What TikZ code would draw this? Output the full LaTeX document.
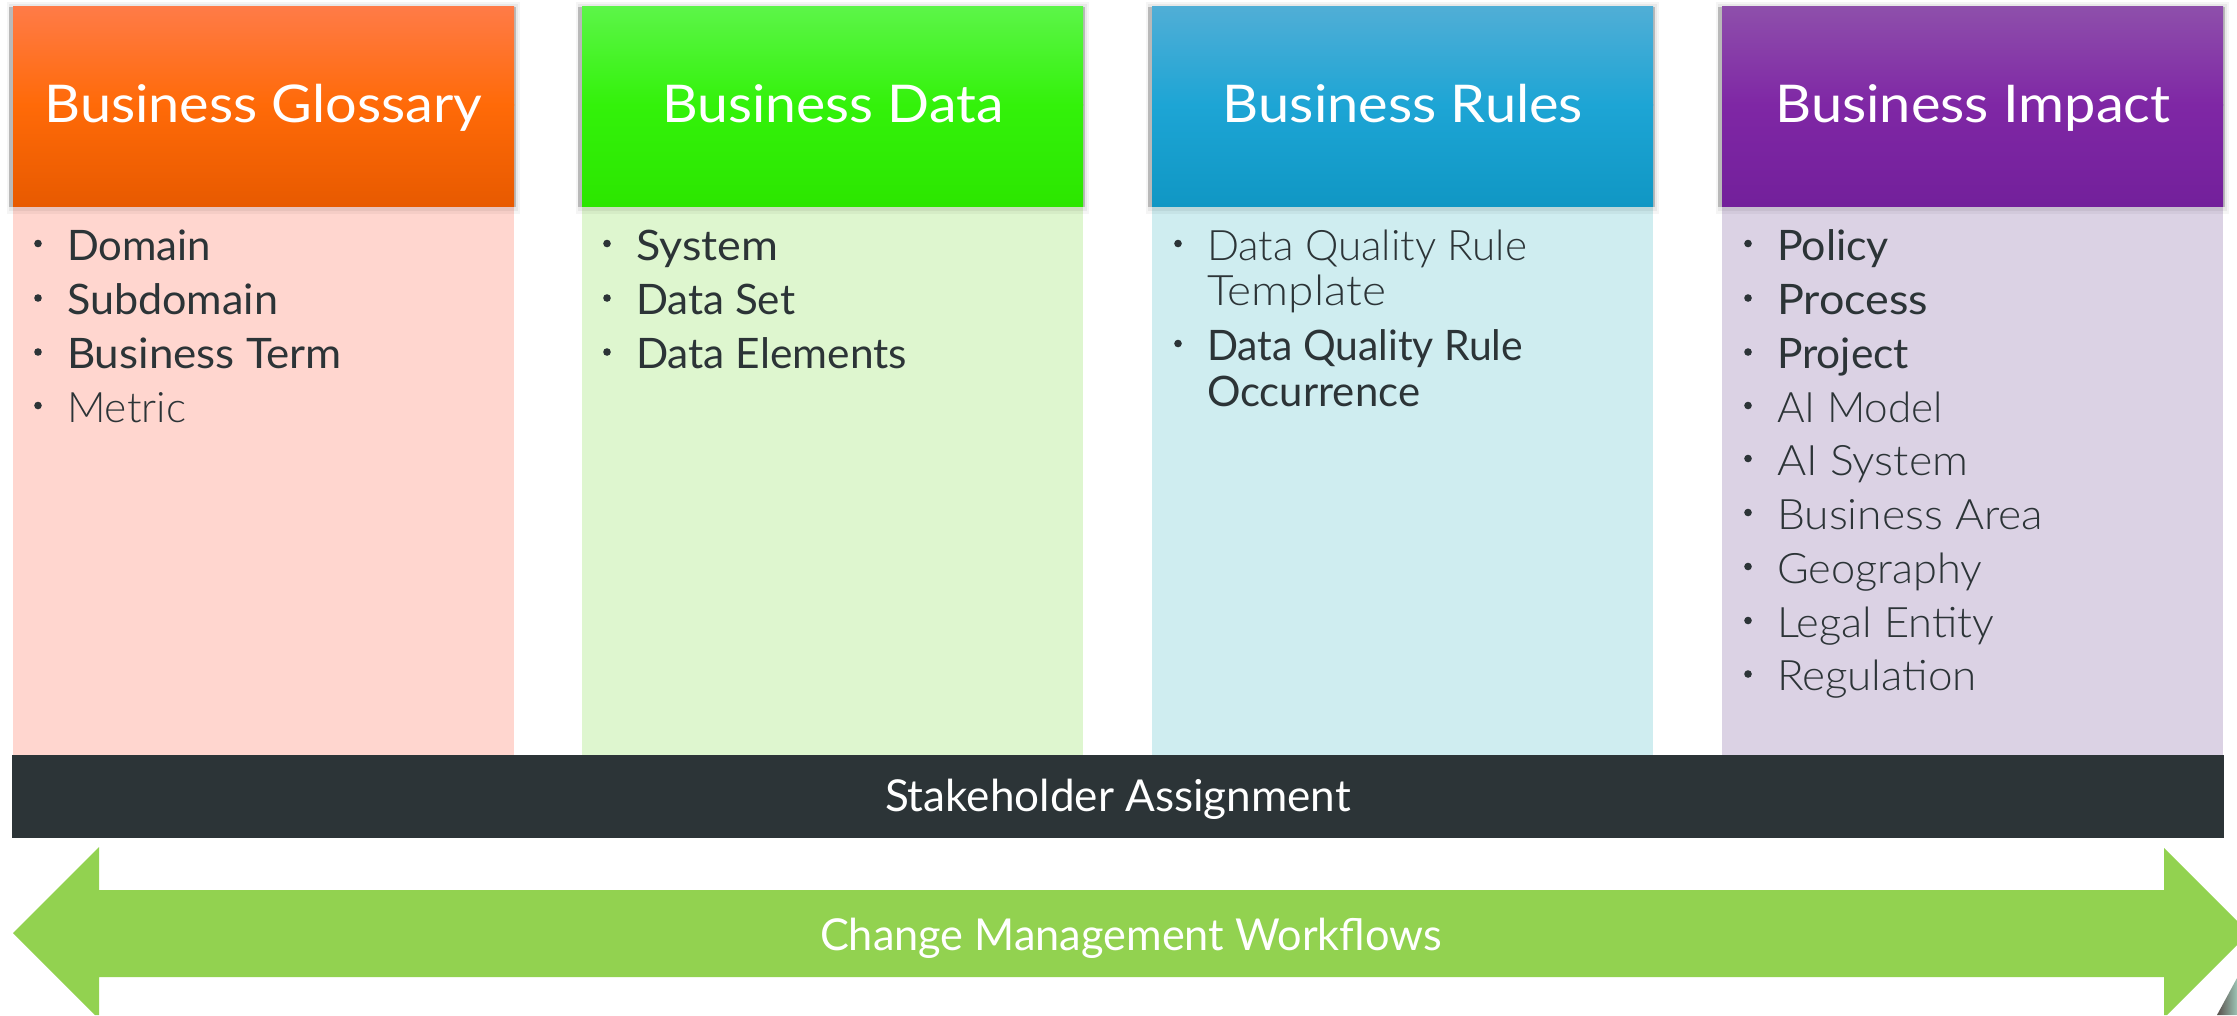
\documentclass[tikz,border=0pt]{standalone}
\usepackage{fontspec}
\setmainfont{Lato}
\IfFontExistsTF{Lato Light}{\newfontfamily\lightf{Lato Light}}{\IfFontExistsTF{Fira Sans Light}{\newfontfamily\lightf{Fira Sans Light}}{\newfontfamily\lightf{Lato}}}
\newfontfamily\regf{Lato}
\definecolor{inkc}{HTML}{2C3437}
\definecolor{arrowc}{HTML}{92D250}
\definecolor{bodya}{HTML}{FFD6CF}
\definecolor{bodyb}{HTML}{DEF6CF}
\definecolor{bodyc}{HTML}{CFEDF0}
\definecolor{bodyd}{HTML}{DBD2E4}
\definecolor{oa}{HTML}{FF7B47}\definecolor{ob}{HTML}{FF6A08}\definecolor{oc}{HTML}{E85A00}
\definecolor{ga}{HTML}{5CF548}\definecolor{gb}{HTML}{33F20A}\definecolor{gc}{HTML}{2CE600}
\definecolor{ba}{HTML}{50AED6}\definecolor{bb}{HTML}{1DA5D5}\definecolor{bc}{HTML}{1097C4}
\definecolor{pa}{HTML}{8E4FAB}\definecolor{pb}{HTML}{7F27A5}\definecolor{pc}{HTML}{73209B}
\definecolor{frga}{HTML}{5A4F4C}\definecolor{frgb}{HTML}{4E8A78}\definecolor{frgc}{HTML}{9CC4B4}
\newlength\pxd \setlength\pxd{0.75pt}
\newcommand{\fitw}[2]{\resizebox{#1\pxd}{\height}{#2}}
% column: left x, three header colours, body colour
\newcommand{\colbox}[5]{%
  \fill[#5] (#1,206) rectangle (#1+501,755);
  \fill[black,opacity=.04] (#1-6,2) rectangle (#1+507,214);
  \fill[black,opacity=.05] (#1-4,4) rectangle (#1+505,211);
  \fill[black,opacity=.20] (#1-4,6.5) rectangle (#1+503,206.5);
  \shade[top color=#2,bottom color=#3] (#1,6.5) rectangle (#1+501,105);
  \shade[top color=#3,bottom color=#4] (#1,104.5) rectangle (#1+501,206);
}
% node name, left x, baseline, width, font, text
\newcommand{\litem}[6]{%
  \fill[inkc] (#2-31,#3-16.5) circle (3.8);
  \node[itemtext] (#1) at (#2-2,#3) {\fitw{#4}{#5#6}};
}
\newcommand{\lcont}[6]{%
  \node[itemtext] (#1) at (#2-2,#3) {\fitw{#4}{#5#6}};
}
\tikzset{
  itemtext/.style={anchor=base west,inner sep=0,outer sep=0,text=inkc,font=\fontsize{31.5}{32}\selectfont},
  headtext/.style={anchor=base,inner sep=0,outer sep=0,text=white,font=\regf\fontsize{39}{40}\selectfont},
  bartext/.style={anchor=base,inner sep=0,outer sep=0,text=white,font=\regf\fontsize{33}{34}\selectfont},
}
\begin{document}
\begin{tikzpicture}[x=0.75pt,y=-0.75pt]
\useasboundingbox (0,0) rectangle (2237,1015);
\fill[white] (0,0) rectangle (2237,1015);
\colbox{13}{oa}{ob}{oc}{bodya}
\colbox{582}{ga}{gb}{gc}{bodyb}
\colbox{1152}{ba}{bb}{bc}{bodyc}
\colbox{1722}{pa}{pb}{pc}{bodyd}
\node[headtext] (hA) at (263.5,122) {\fitw{438}{Business Glossary}};
\node[headtext] (hB) at (833,122) {\fitw{341}{Business Data}};
\node[headtext] (hC) at (1403,122) {\fitw{360}{Business Rules}};
\node[headtext] (hD) at (1973,122) {\fitw{395}{Business Impact}};
% column A
\litem{a1}{69}{260}{144}{\regf}{Domain}
\litem{a2}{69}{314.5}{211}{\regf}{Subdomain}
\litem{a3}{69}{368.5}{275}{\regf}{Business Term}
\litem{a4}{69}{422}{119}{\lightf}{Metric}
% column B
\litem{b1}{638}{260}{142}{\regf}{System}
\litem{b2}{638}{314.5}{159}{\regf}{Data Set}
\litem{b3}{638}{368.5}{271}{\regf}{Data Elements}
% column C
\litem{c1}{1209}{260}{320}{\lightf}{Data Quality Rule}
\lcont{c2}{1209}{305}{179}{\lightf}{Template}
\litem{c3}{1209}{360}{316}{\regf}{Data Quality Rule}
\lcont{c4}{1209}{406.5}{213}{\regf}{Occurrence}
% column D
\litem{d1}{1779}{260}{112}{\regf}{Policy}
\litem{d2}{1779}{314.5}{151}{\regf}{Process}
\litem{d3}{1779}{368.5}{132}{\regf}{Project}
\litem{d4}{1779}{422}{166}{\lightf}{AI Model}
\litem{d5}{1779}{475}{191}{\lightf}{AI System}
\litem{d6}{1779}{529}{266}{\lightf}{Business Area}
\litem{d7}{1779}{583}{205}{\lightf}{Geography}
\litem{d8}{1779}{637}{217}{\lightf}{Legal Entity}
\litem{d9}{1779}{690.5}{200}{\lightf}{Regulation}
% stakeholder bar
\fill[inkc] (12,755) rectangle (2224,838);
\node[bartext] (sa) at (1118,811.5) {\fitw{466}{Stakeholder Assignment}};
% change management arrow
\fill[arrowc] (13,933) -- (99,847) -- (99,890) -- (2164,890) -- (2164,848)
  -- (2237,921) -- (2237,945) -- (2167,1015) -- (2164,1015) -- (2164,977)
  -- (99,977) -- (99,1015) -- (95,1015) -- cycle;
\node[bartext] (cm) at (1131,950) {\fitw{622}{Change Management Workflows}};
% corner fragment
\shade[left color=frga,middle color=frgb,right color=frgc] (2217,1015) -- (2237,978) -- (2237,1015) -- cycle;
\end{tikzpicture}
\end{document}
